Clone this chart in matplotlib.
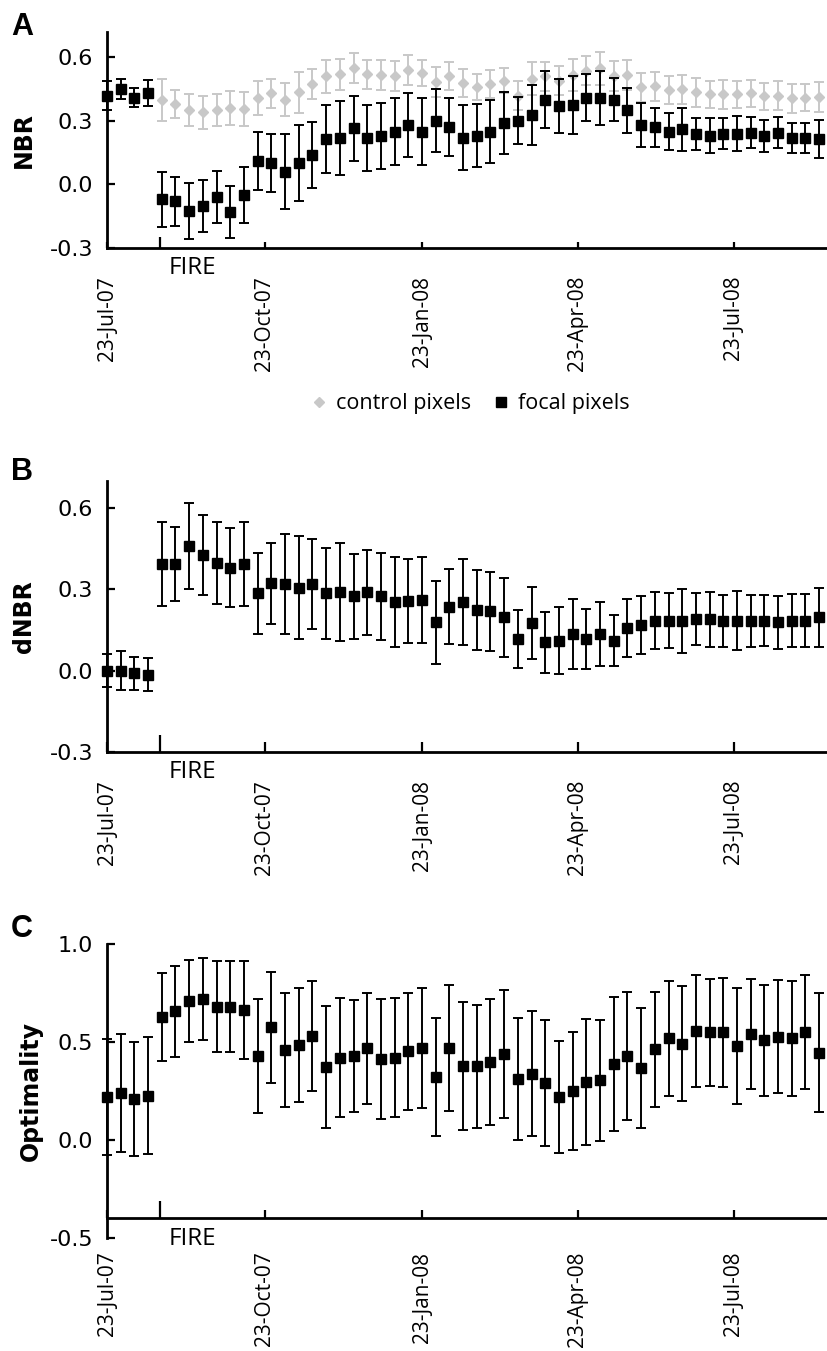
import matplotlib
matplotlib.use("Agg")
import matplotlib.pyplot as plt
import matplotlib.dates as mdates
from matplotlib.ticker import FormatStrFormatter
import pandas as pd

# 8-day composites starting 23-Jul-07
dates = pd.date_range("2007-07-23", periods=54, freq="8D").to_pydatetime()
fire_date = pd.Timestamp("2007-08-23").to_pydatetime()
tick_dates = pd.to_datetime(["2007-07-23", "2007-10-23", "2008-01-23",
                             "2008-04-23", "2008-07-23"]).to_pydatetime()
x_end = pd.Timestamp("2008-09-29").to_pydatetime()

# Panel A - NBR
nbr_focal = [0.42, 0.45, 0.41, 0.43, -0.07, -0.08, -0.125, -0.10, -0.06, -0.13, -0.05,
             0.11, 0.10, 0.06, 0.10, 0.14, 0.215, 0.22, 0.265, 0.22, 0.23, 0.25, 0.28,
             0.25, 0.30, 0.27, 0.22, 0.23, 0.25, 0.29, 0.30, 0.33, 0.40, 0.37, 0.375,
             0.41, 0.41, 0.40, 0.35, 0.28, 0.27, 0.25, 0.26, 0.24, 0.23, 0.24, 0.24,
             0.245, 0.23, 0.245, 0.22, 0.22, 0.215, 0.21]
nbr_focal_err = [0.067, 0.046, 0.046, 0.061, 0.13, 0.116, 0.133, 0.123, 0.122, 0.121, 0.133,
                 0.138, 0.136, 0.178, 0.18, 0.156, 0.16, 0.173, 0.154, 0.155, 0.155, 0.156,
                 0.152, 0.158, 0.149, 0.137, 0.153, 0.149, 0.148, 0.148, 0.111, 0.142, 0.135,
                 0.127, 0.137, 0.111, 0.127, 0.102, 0.105, 0.104, 0.093, 0.087, 0.101, 0.076,
                 0.083, 0.073, 0.084, 0.073, 0.076, 0.073, 0.072, 0.072, 0.09, 0.08]
nbr_control = [0.42, 0.45, 0.41, 0.43, 0.40, 0.38, 0.35, 0.34, 0.35, 0.36, 0.356,
               0.408, 0.43, 0.40, 0.435, 0.474, 0.51, 0.52, 0.55, 0.52, 0.517, 0.513, 0.54,
               0.526, 0.485, 0.513, 0.48, 0.46, 0.474, 0.49, 0.42, 0.50, 0.51, 0.49, 0.517,
               0.537, 0.548, 0.513, 0.517, 0.458, 0.463, 0.446, 0.45, 0.435, 0.425, 0.425,
               0.425, 0.43, 0.416, 0.42, 0.406, 0.41, 0.414, 0.41]
nbr_control_err = [0.067, 0.046, 0.046, 0.061, 0.098, 0.067, 0.076, 0.079, 0.076, 0.08, 0.08,
                   0.079, 0.067, 0.078, 0.096, 0.07, 0.078, 0.073, 0.072, 0.07, 0.07, 0.07,
                   0.07, 0.062, 0.07, 0.066, 0.066, 0.061, 0.066, 0.06, 0.067, 0.077, 0.07,
                   0.068, 0.077, 0.068, 0.076, 0.072, 0.07, 0.07, 0.07, 0.066, 0.068, 0.068,
                   0.064, 0.067, 0.064, 0.064, 0.063, 0.067, 0.068, 0.065, 0.07, 0.068]

# Panel B - dNBR
dnbr = [0.0, 0.0, -0.009, -0.015, 0.394, 0.394, 0.46, 0.427, 0.397, 0.38, 0.394,
        0.285, 0.323, 0.32, 0.307, 0.32, 0.285, 0.29, 0.274, 0.29, 0.274, 0.252, 0.258,
        0.262, 0.178, 0.236, 0.252, 0.224, 0.219, 0.197, 0.117, 0.175, 0.105, 0.111,
        0.135, 0.117, 0.135, 0.111, 0.157, 0.168, 0.185, 0.185, 0.185, 0.19, 0.19, 0.185,
        0.185, 0.185, 0.185, 0.178, 0.185, 0.185, 0.197, 0.19]
dnbr_err = [0.061, 0.071, 0.061, 0.061, 0.155, 0.138, 0.157, 0.148, 0.151, 0.146, 0.155,
            0.149, 0.149, 0.186, 0.189, 0.166, 0.169, 0.181, 0.158, 0.157, 0.161, 0.166,
            0.154, 0.158, 0.152, 0.138, 0.159, 0.147, 0.147, 0.145, 0.108, 0.133, 0.113,
            0.125, 0.130, 0.110, 0.119, 0.094, 0.108, 0.108, 0.105, 0.101, 0.118, 0.096,
            0.102, 0.096, 0.108, 0.096, 0.095, 0.097, 0.097, 0.098, 0.108, 0.1]

# Panel C - Optimality
opt = [0.219, 0.241, 0.21, 0.227, 0.626, 0.658, 0.711, 0.72, 0.68, 0.68, 0.663,
       0.429, 0.574, 0.458, 0.484, 0.53, 0.373, 0.42, 0.429, 0.467, 0.412, 0.42, 0.453,
       0.47, 0.321, 0.47, 0.376, 0.376, 0.398, 0.438, 0.313, 0.338, 0.29, 0.219, 0.25,
       0.296, 0.304, 0.39, 0.429, 0.368, 0.462, 0.518, 0.492, 0.556, 0.549, 0.549,
       0.479, 0.54, 0.509, 0.526, 0.518, 0.549, 0.446, 0.37]
opt_err = [0.295, 0.30, 0.29, 0.299, 0.225, 0.232, 0.209, 0.209, 0.231, 0.232, 0.248,
           0.29, 0.282, 0.29, 0.29, 0.28, 0.311, 0.302, 0.286, 0.285, 0.306, 0.302, 0.299,
           0.308, 0.299, 0.32, 0.326, 0.315, 0.323, 0.327, 0.312, 0.319, 0.323, 0.284,
           0.301, 0.319, 0.31, 0.342, 0.325, 0.307, 0.294, 0.291, 0.293, 0.286, 0.274,
           0.278, 0.294, 0.281, 0.282, 0.288, 0.291, 0.291, 0.305, 0.3]

GREY = "#c8c8c8"
W, H = 827, 1351


def px_axes(top, bottom, left=107, right=850):
    return [left / W, 1 - bottom / H, (right - left) / W, (bottom - top) / H]


def focal_bars(ax, y, err):
    return ax.errorbar(dates, y, yerr=err, fmt="s", color="black", ms=7,
                       elinewidth=1.4, capsize=3.5, capthick=1.4, zorder=3,
                       clip_on=False)


def style_axis(ax, ylim, yticks, axis_y, major_len, fire_len, pad, label, label_x):
    ax.set_xlim(dates[0], x_end)
    ax.set_ylim(*ylim)
    ax.set_yticks(yticks)
    ax.yaxis.set_major_formatter(FormatStrFormatter("%.1f"))
    ax.spines[["top", "right"]].set_visible(False)
    ax.spines["bottom"].set_position(("data", axis_y))
    for s in ["left", "bottom"]:
        ax.spines[s].set_linewidth(2.0)
    ax.set_xticks(tick_dates)
    ax.xaxis.set_major_formatter(mdates.DateFormatter("%d-%b-%y"))
    ax.set_xticks([fire_date], minor=True)
    ax.tick_params(axis="x", which="major", direction="in", length=major_len, width=1.6,
                   pad=pad, labelrotation=90, labelsize=15, labelfontfamily="Open Sans")
    ax.tick_params(axis="x", which="minor", direction="in", length=fire_len, width=1.6)
    ax.tick_params(axis="y", direction="in", length=6, width=1.6, pad=10, labelsize=16)
    ax.annotate("FIRE", xy=(fire_date, axis_y), xytext=(6, -6), textcoords="offset points",
                ha="left", va="top", fontsize=17.5, family="Open Sans")
    ax.set_ylabel(label, fontsize=17, fontweight="bold")
    ax.yaxis.set_label_coords((label_x - 107) / (850 - 107), 0.5)


fig = plt.figure(figsize=(W / 100, H / 100), dpi=100)

# A
ax1 = fig.add_axes(px_axes(32, 248))
ctrl = ax1.errorbar(dates, nbr_control, yerr=nbr_control_err, fmt="D", color=GREY, ms=5.5,
                    elinewidth=1.4, capsize=3.5, capthick=1.4, zorder=2, clip_on=False)
foc = focal_bars(ax1, nbr_focal, nbr_focal_err)
style_axis(ax1, (-0.3, 0.72), [-0.3, 0.0, 0.3, 0.6], -0.3, 4, 8, 20, "NBR", 36)
fig.legend([ctrl[0], foc[0]], ["control pixels", "focal pixels"], loc="center",
           bbox_to_anchor=(470 / W, 1 - 404 / H), ncol=2, frameon=False,
           prop={"family": "Open Sans", "size": 15.5}, handlelength=0.8,
           handletextpad=0.4, columnspacing=1.0)

# B
ax2 = fig.add_axes(px_axes(481, 752))
focal_bars(ax2, dnbr, dnbr_err)
style_axis(ax2, (-0.3, 0.7), [-0.3, 0.0, 0.3, 0.6], -0.3, 7, 12, 20, "dNBR", 36)

# C
ax3 = fig.add_axes(px_axes(944, 1238))
focal_bars(ax3, opt, opt_err)
style_axis(ax3, (-0.5, 1.0), [-0.5, 0.0, 0.5, 1.0], -0.4, 6, 12, 24, "Optimality", 43)

for letter, top in [("A", 12), ("B", 457), ("C", 914)]:
    fig.text(11 / W, 1 - top / H, letter, fontsize=22, fontweight="bold",
             family="Liberation Sans", ha="left", va="top")

fig.savefig("out.png", dpi=100)
